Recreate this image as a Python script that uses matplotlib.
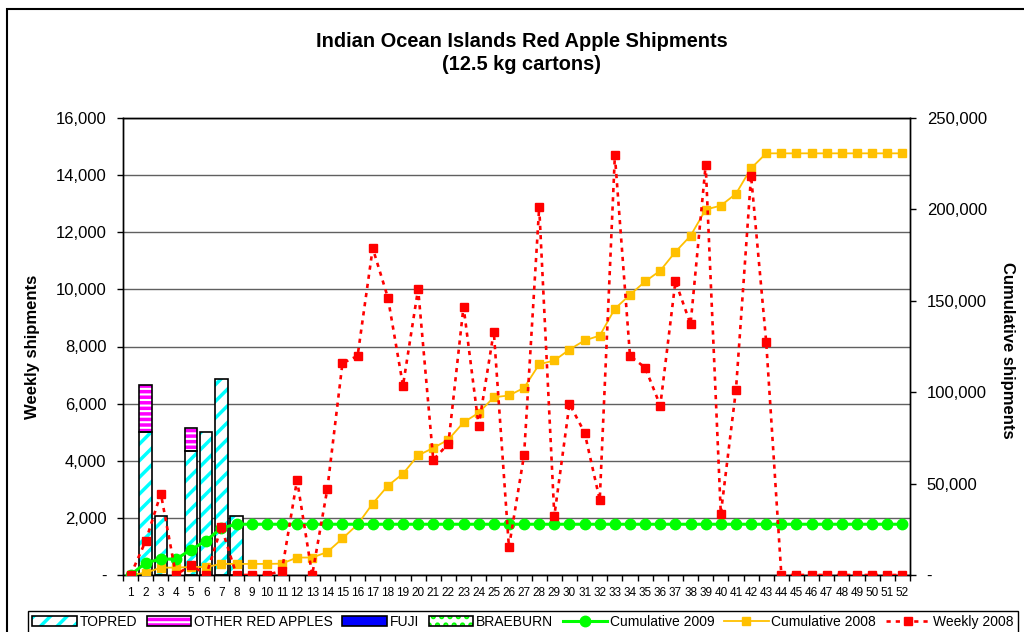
import numpy as np
import matplotlib

matplotlib.use("Agg")
import matplotlib.pyplot as plt
from matplotlib.patches import Patch, Rectangle
from matplotlib.lines import Line2D
from matplotlib.ticker import FuncFormatter

plt.rcParams["font.family"] = ["Liberation Sans", "DejaVu Sans"]
plt.rcParams["hatch.linewidth"] = 2.5

# week numbers (category axis)
weeks = list(range(1, 53))

# weekly 2009 shipments, stacked by variety (12.5 kg cartons)
topred = [0, 5000, 2050, 0, 4350, 5000, 6870, 2050,
          0, 0, 0, 0, 0, 0, 0, 0, 0, 0, 0, 0, 0, 0, 0, 0, 0, 0,
          0, 0, 0, 0, 0, 0, 0, 0, 0, 0, 0, 0, 0, 0, 0, 0, 0, 0,
          0, 0, 0, 0, 0, 0, 0, 0]
other_red = [0, 1650, 0, 0, 800, 0, 0, 0,
             0, 0, 0, 0, 0, 0, 0, 0, 0, 0, 0, 0, 0, 0, 0, 0, 0, 0,
             0, 0, 0, 0, 0, 0, 0, 0, 0, 0, 0, 0, 0, 0, 0, 0, 0, 0,
             0, 0, 0, 0, 0, 0, 0, 0]
fuji = [0] * 52
braeburn = [0] * 52

# cumulative 2009 (right axis)
cum_2009 = [0, 6650, 8700, 8700, 13850, 18850, 25720, 27770,
            27770, 27770, 27770, 27770, 27770, 27770, 27770, 27770,
            27770, 27770, 27770, 27770, 27770, 27770, 27770, 27770,
            27770, 27770, 27770, 27770, 27770, 27770, 27770, 27770,
            27770, 27770, 27770, 27770, 27770, 27770, 27770, 27770,
            27770, 27770, 27770, 27770, 27770, 27770, 27770, 27770,
            27770, 27770, 27770, 27770]

# cumulative 2008 (right axis)
cum_2008 = [0, 1190, 4040, 4040, 4390, 4390, 6070, 6070, 6070, 6070,
            6220, 9550, 9550, 12560, 19975, 27645, 39085, 48800, 55430, 65450,
            69480, 74080, 83480, 88700, 97225, 98195, 102395, 115275, 117345, 123335,
            128320, 130950, 145640, 153310, 160570, 166500, 176780, 185560, 199920, 202060,
            208540, 222515, 230665, 230665, 230665, 230665, 230665, 230665, 230665, 230665,
            230665, 230665]

# weekly 2008 (left axis)
weekly_2008 = [0, 1190, 2850, 0, 350, 0, 1680, 0, 0, 0,
               150, 3330, 0, 3010, 7415, 7670, 11440, 9715, 6630, 10020,
               4030, 4600, 9400, 5220, 8525, 970, 4200, 12880, 2070, 5990,
               4985, 2630, 14690, 7670, 7260, 5930, 10280, 8780, 14360, 2140,
               6480, 13975, 8150, 0, 0, 0, 0, 0, 0, 0,
               0, 0]

CYAN = "#00FFFF"
MAGENTA = "#FF00FF"
GREEN = "#00FF00"
GOLD = "#FFC000"
RED = "#FF0000"


def thousands(v, pos):
    if v == 0:
        return "-"
    return f"{v:,.0f}"


def stacked_bar(ax, x, heights, bottom, face, edge, hatch=None):
    # only segments with a value get drawn (Excel leaves empty weeks blank)
    x = np.asarray(x)
    heights = np.asarray(heights)
    bottom = np.asarray(bottom)
    keep = heights > 0
    if not keep.any():
        return
    if hatch:
        ax.bar(x[keep], heights[keep], bar_w, bottom=bottom[keep], color=face,
               edgecolor=edge, hatch=hatch, linewidth=0, zorder=2)
        ax.bar(x[keep], heights[keep], bar_w, bottom=bottom[keep], fill=False,
               edgecolor="black", linewidth=1.2, zorder=3)
    else:
        ax.bar(x[keep], heights[keep], bar_w, bottom=bottom[keep], color=face,
               edgecolor="black", linewidth=1.2, zorder=3)


fig = plt.figure(figsize=(10.24, 6.32), dpi=100)
ax = fig.add_axes([123 / 1024, 57 / 632, 787 / 1024, 457 / 632])
ax2 = ax.twinx()
ax3 = ax.twinx()

bar_w = 0.82
zeros = np.zeros(len(weeks))
other_bottom = np.array(topred)
fuji_bottom = other_bottom + np.array(other_red)
brae_bottom = fuji_bottom + np.array(fuji)

stacked_bar(ax, weeks, topred, zeros, "white", CYAN, "//")
stacked_bar(ax, weeks, other_red, other_bottom, "white", MAGENTA, "---")
stacked_bar(ax, weeks, fuji, fuji_bottom, "#0000FF", "black")
stacked_bar(ax, weeks, braeburn, brae_bottom, "white", GREEN, "..")

ax.set_xlim(0.5, 52.5)
ax.set_ylim(0, 16000)
ax.set_yticks(range(0, 16001, 2000))
ax.yaxis.set_major_formatter(FuncFormatter(thousands))
ax.yaxis.grid(True, color="#606060", linewidth=1)
ax.set_axisbelow(True)
ax.set_xticks(weeks)
ax.set_xticks(np.arange(0.5, 53, 1), minor=True)
ax.tick_params(axis="x", which="major", length=0, labelsize=8.5, pad=9)
ax.tick_params(axis="x", which="minor", length=4, direction="out", width=1)
ax.tick_params(axis="y", length=4, direction="out", labelsize=12, pad=8, width=1)
for sp in ax.spines.values():
    sp.set_linewidth(1)

# cumulative lines on right axis
ax2.plot(weeks, cum_2008, color=GOLD, lw=1.3, marker="s", ms=5.5, zorder=3)
ax2.plot(weeks, cum_2009, color=GREEN, lw=2.2, marker="o", ms=7.5, zorder=4)
ax2.set_ylim(0, 250000)
ax2.set_yticks(range(0, 250001, 50000))
ax2.yaxis.set_major_formatter(FuncFormatter(thousands))
ax2.tick_params(axis="y", length=4, direction="out", labelsize=12, pad=8, width=1)
for sp in ax2.spines.values():
    sp.set_linewidth(1)

# weekly 2008 on top, using the left scale
ax3.plot(weeks, weekly_2008, color=RED, lw=1.9, linestyle=(0, (1.6, 1.9)),
         marker="s", ms=6, zorder=5)
ax3.set_ylim(ax.get_ylim())
ax3.axis("off")

fig.text(522 / 1024, 1 - 53 / 632, "Indian Ocean Islands Red Apple Shipments\n(12.5 kg cartons)",
         ha="center", va="center", fontsize=14.4, fontweight="bold", linespacing=1.3)
fig.text(33 / 1024, 1 - 347 / 632, "Weekly shipments", rotation=90, ha="center", va="center",
         fontsize=12, fontweight="bold")
fig.text(1008 / 1024, 1 - 350 / 632, "Cumulative shipments", rotation=270, ha="center",
         va="center", fontsize=12, fontweight="bold")

# outer chart frame
fig.patches.append(Rectangle((7 / 1024, -0.1), 1.2, 1.1 - 9 / 632, transform=fig.transFigure,
                             fill=False, edgecolor="black", linewidth=1.5))

handles = [
    (Patch(facecolor="white", edgecolor=CYAN, hatch="//", linewidth=0),
     Patch(fill=False, edgecolor="black", linewidth=1.2)),
    (Patch(facecolor="white", edgecolor=MAGENTA, hatch="---", linewidth=0),
     Patch(fill=False, edgecolor="black", linewidth=1.2)),
    Patch(facecolor="#0000FF", edgecolor="black", linewidth=1.2),
    (Patch(facecolor="white", edgecolor=GREEN, hatch="..", linewidth=0),
     Patch(fill=False, edgecolor="black", linewidth=1.2)),
    Line2D([], [], color=GREEN, lw=2.2, marker="o", ms=7.5),
    Line2D([], [], color=GOLD, lw=1.3, marker="s", ms=5.5),
    Line2D([], [], color=RED, lw=1.9, linestyle=(0, (1.6, 1.9)), marker="s", ms=6),
]
labels = ["TOPRED", "OTHER RED APPLES", "FUJI", "BRAEBURN",
          "Cumulative 2009", "Cumulative 2008", "Weekly 2008"]
leg = fig.legend(handles, labels, loc="upper left", bbox_to_anchor=(28 / 1024, 1 - 611 / 632),
                 ncol=7, fontsize=10, frameon=True, fancybox=False, framealpha=1,
                 edgecolor="black", handlelength=3.2, handletextpad=0.2, columnspacing=0.7,
                 borderpad=0.3, borderaxespad=0, numpoints=1)
leg.get_frame().set_linewidth(1)

fig.savefig("out.png", dpi=100)
